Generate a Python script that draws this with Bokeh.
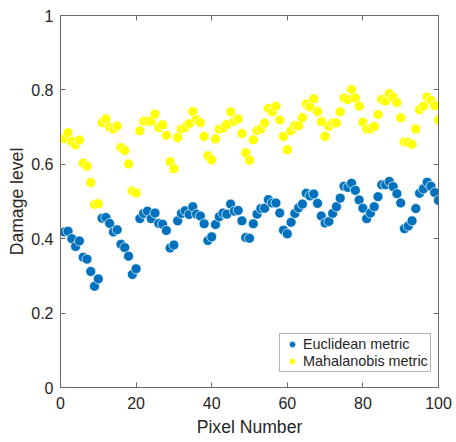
from bokeh.plotting import figure
from bokeh.models import (ColumnDataSource, Range1d, LinearAxis, FixedTicker,
                          CustomJSTickFormatter, Legend, LegendItem)
from bokeh.embed import file_html
from bokeh.resources import INLINE

# Damage level per pixel for the two distance metrics
pixel = list(range(1, 101))

euclidean = [
    0.418, 0.420, 0.400, 0.379, 0.394, 0.350, 0.345, 0.312, 0.272, 0.292,
    0.455, 0.457, 0.441, 0.418, 0.424, 0.385, 0.376, 0.353, 0.304, 0.319,
    0.454, 0.468, 0.474, 0.454, 0.469, 0.441, 0.439, 0.422, 0.375, 0.383,
    0.448, 0.468, 0.475, 0.465, 0.486, 0.466, 0.461, 0.440, 0.395, 0.405,
    0.438, 0.459, 0.469, 0.466, 0.493, 0.474, 0.476, 0.448, 0.403, 0.401,
    0.440, 0.466, 0.481, 0.482, 0.505, 0.496, 0.496, 0.469, 0.423, 0.413,
    0.444, 0.468, 0.483, 0.493, 0.522, 0.515, 0.520, 0.495, 0.461, 0.442,
    0.446, 0.468, 0.486, 0.509, 0.541, 0.538, 0.549, 0.530, 0.504, 0.482,
    0.454, 0.469, 0.486, 0.513, 0.545, 0.545, 0.554, 0.540, 0.521, 0.496,
    0.427, 0.434, 0.448, 0.481, 0.522, 0.534, 0.552, 0.541, 0.524, 0.503,
]

mahalanobis = [
    0.669, 0.685, 0.661, 0.652, 0.665, 0.603, 0.595, 0.551, 0.492, 0.494,
    0.712, 0.722, 0.700, 0.695, 0.703, 0.645, 0.637, 0.601, 0.528, 0.523,
    0.690, 0.716, 0.716, 0.716, 0.735, 0.699, 0.706, 0.678, 0.607, 0.588,
    0.672, 0.695, 0.699, 0.709, 0.742, 0.720, 0.712, 0.675, 0.623, 0.612,
    0.668, 0.694, 0.697, 0.707, 0.741, 0.716, 0.722, 0.683, 0.631, 0.611,
    0.666, 0.691, 0.695, 0.711, 0.750, 0.741, 0.756, 0.719, 0.675, 0.639,
    0.690, 0.704, 0.704, 0.726, 0.762, 0.754, 0.776, 0.742, 0.715, 0.675,
    0.702, 0.711, 0.711, 0.741, 0.778, 0.774, 0.801, 0.778, 0.756, 0.713,
    0.695, 0.695, 0.702, 0.734, 0.774, 0.770, 0.790, 0.780, 0.766, 0.725,
    0.660, 0.659, 0.654, 0.695, 0.747, 0.756, 0.781, 0.772, 0.758, 0.719,
]

x_ticks = [0, 20, 40, 60, 80, 100]
y_ticks = [0, 0.2, 0.4, 0.6, 0.8, 1]
series_names = ["Euclidean metric", "Mahalanobis metric"]
series_colors = ["#0072BD", "#FFFF00"]

FONT = "Liberation Sans"
TEXT = "#262626"
AXIS = "#6a6a6a"

src = ColumnDataSource(dict(x=pixel, e=euclidean, m=mahalanobis))

p = figure(width=456, height=442, output_backend="svg", toolbar_location=None,
           x_range=Range1d(0, 100), y_range=Range1d(0, 1),
           min_border_left=60, min_border_right=18,
           min_border_top=15, min_border_bottom=55)
p.xgrid.visible = False
p.ygrid.visible = False
p.outline_line_color = AXIS
p.background_fill_color = "white"
p.border_fill_color = "white"

r_e = p.scatter("x", "e", source=src, size=10, fill_color=series_colors[0],
                line_color="white", line_width=0.7)
r_m = p.scatter("x", "m", source=src, size=10, fill_color=series_colors[1],
                line_color="white", line_width=0.7)

fmt = CustomJSTickFormatter(code="return String(Math.round(tick * 10) / 10);")
blank_fmt = CustomJSTickFormatter(code="return '';")


def style_axis(ax, ticks, labelled=True):
    ax.ticker = FixedTicker(ticks=ticks)
    ax.axis_line_color = AXIS
    ax.major_tick_line_color = AXIS
    ax.major_tick_in = 5
    ax.major_tick_out = 0
    ax.minor_tick_line_color = None
    if labelled:
        ax.formatter = fmt
        ax.major_label_text_font = FONT
        ax.major_label_text_font_size = "16px"
        ax.major_label_text_color = TEXT
        ax.axis_label_text_font = FONT
        ax.axis_label_text_font_size = "17.6px"
        ax.axis_label_text_font_style = "normal"
        ax.axis_label_text_color = TEXT
    else:
        # mirrored box axis: ticks only
        ax.formatter = blank_fmt
        ax.major_label_standoff = 0


xa = p.xaxis[0]
ya = p.yaxis[0]
style_axis(xa, x_ticks)
style_axis(ya, y_ticks)
xa.axis_label = "Pixel Number"
ya.axis_label = "Damage level"
xa.major_label_standoff = 9
xa.axis_label_standoff = 5
ya.major_label_standoff = 7
ya.axis_label_standoff = 1

top_ax = LinearAxis()
right_ax = LinearAxis()
style_axis(top_ax, x_ticks, labelled=False)
style_axis(right_ax, y_ticks, labelled=False)
p.add_layout(top_ax, "above")
p.add_layout(right_ax, "right")

legend = Legend(items=[LegendItem(label=series_names[0], renderers=[r_e]),
                       LegendItem(label=series_names[1], renderers=[r_m])],
                location=(219, 15))
legend.label_text_font = FONT
legend.label_text_font_size = "14.4px"
legend.label_text_color = TEXT
legend.border_line_color = AXIS
legend.border_line_width = 1
legend.background_fill_color = "white"
legend.background_fill_alpha = 1
legend.padding = 2
legend.margin = 0
legend.spacing = 1
legend.glyph_width = 20
legend.glyph_height = 16
legend.label_height = 16
legend.label_standoff = 1
p.add_layout(legend, "center")

open("out.html", "w").write(file_html(p, INLINE))
